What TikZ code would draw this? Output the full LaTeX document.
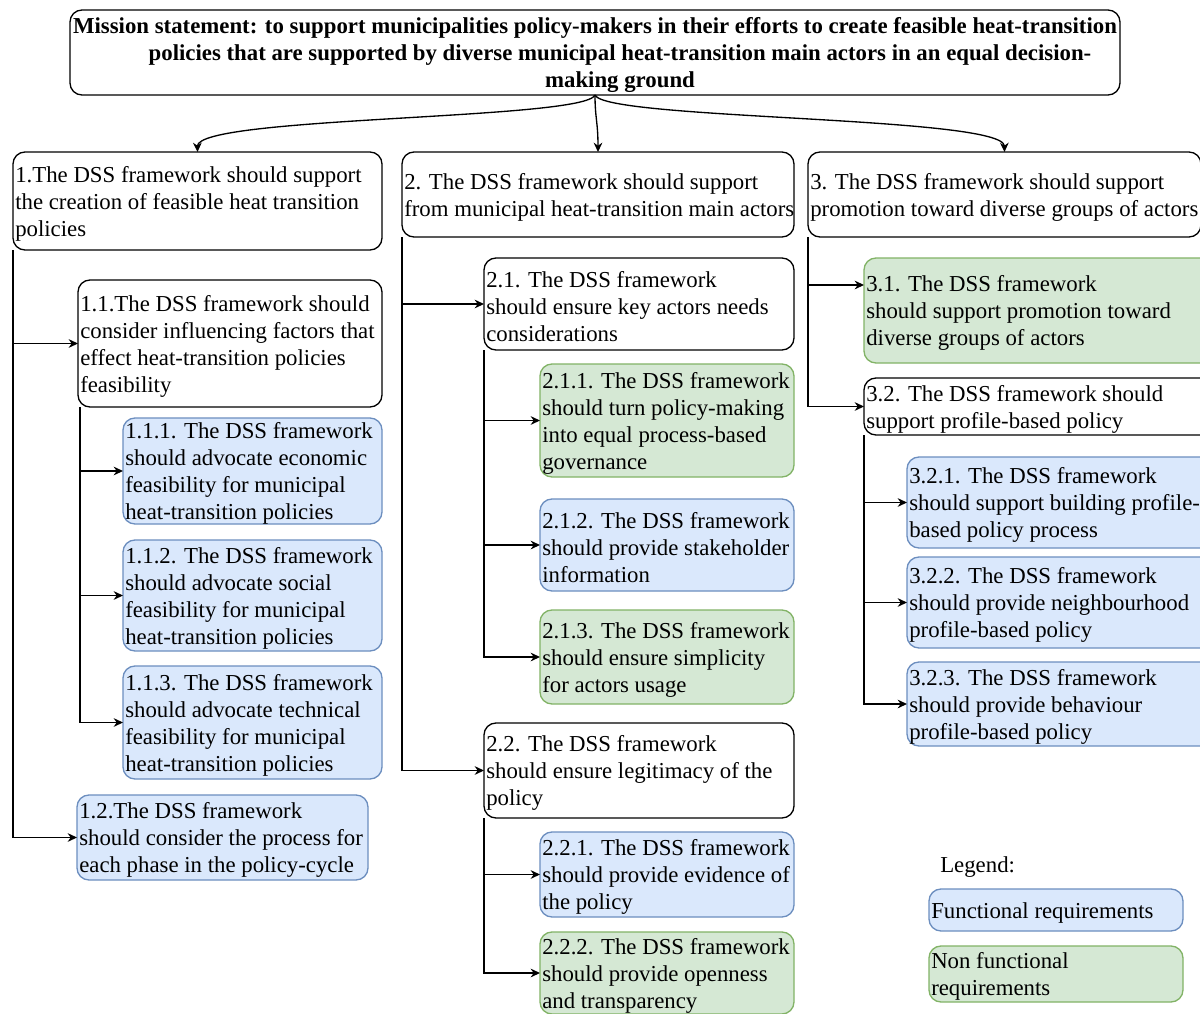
\documentclass[tikz,border=0pt]{standalone}
\usepackage{fontspec}
\setmainfont{Liberation Serif}
\usetikzlibrary{arrows.meta,fit,calc}

\definecolor{fblue}{HTML}{DAE8FC}
\definecolor{sblue}{HTML}{6C8EBF}
\definecolor{fgreen}{HTML}{D5E8D4}
\definecolor{sgreen}{HTML}{82B366}

\tikzset{
  plain/.style={draw=black, line width=1pt, rounded corners=9pt, inner sep=0pt, outer sep=0pt},
  func/.style={plain, draw=sblue, fill=fblue},
  nonfunc/.style={plain, draw=sgreen, fill=fgreen},
  txt/.style={inner sep=0pt, align=left, font=\fontsize{17.1}{20.25}\selectfont},
  arr/.style={line width=1pt, -{Stealth[length=7pt,width=6.5pt]}},
}

% box with left-aligned, vertically centred text: name, style, x1, y1, x2, y2, text
\newcommand\req[7]{%
  \node[#2, fit={(#3,#4) (#5,#6)}] (#1) {};
  \node[txt, anchor=west] (#1t) at ([xshift=1.5pt, yshift=-1.9pt]#1.west) {#7};
}

\begin{document}
\begin{tikzpicture}[x=0.75pt, y=-0.75pt]
\useasboundingbox (0,0) rectangle (1200,1014);
\clip (0,0) rectangle (1200,1014);
\fill[white] (0,0) rectangle (1200,1014);

% mission statement
\node[plain, fit={(70,10) (1120,95)}] (top) {};
\node[txt, align=center, font=\fontsize{17.1}{20.25}\selectfont\bfseries] (topt) at ([yshift=-2.2pt]top.center)
  {Mission statement: to support municipalities policy-makers in their efforts to create feasible heat-transition\\
   \hspace*{37.5pt}policies that are supported by diverse municipal heat-transition main actors in an equal decision-\\
   \hspace*{37.5pt}making ground};

% first level
\req{b1}{plain}{13}{152}{382}{250}{1.The DSS framework should support\\the creation of feasible heat transition\\policies}
\req{b2}{plain}{402}{152}{794}{237}{2. The DSS framework should support\\from municipal heat-transition main actors}
\req{b3}{plain}{808}{152}{1201}{237}{3. The DSS framework should support\\promotion toward diverse groups of actors}

% column 1
\req{b11}{plain}{78}{280}{382}{407}{1.1.The DSS framework should\\consider influencing factors that\\effect heat-transition policies\\feasibility}
\req{b111}{func}{123}{418}{382}{524}{1.1.1. The DSS framework\\should advocate economic\\feasibility for municipal\\heat-transition policies}
\req{b112}{func}{123}{540}{382}{651}{1.1.2. The DSS framework\\should advocate social\\feasibility for municipal\\heat-transition policies}
\req{b113}{func}{123}{666}{382}{779}{1.1.3. The DSS framework\\should advocate technical\\feasibility for municipal\\heat-transition policies}
\req{b12}{func}{77}{795}{368}{880}{1.2.The DSS framework\\should consider the process for\\each phase in the policy-cycle}

% column 2
\req{b21}{plain}{484}{258}{794}{350}{2.1. The DSS framework\\should ensure key actors needs\\considerations}
\req{b211}{nonfunc}{540}{364}{794}{477}{2.1.1. The DSS framework\\should turn policy-making\\into equal process-based\\governance}
\req{b212}{func}{540}{499}{794}{591}{2.1.2. The DSS framework\\should provide stakeholder\\information}
\req{b213}{nonfunc}{540}{610}{794}{704}{2.1.3. The DSS framework\\should ensure simplicity\\for actors usage}
\req{b22}{plain}{484}{723}{794}{818}{2.2. The DSS framework\\should ensure legitimacy of the\\policy}
\req{b221}{func}{540}{832}{794}{917}{2.2.1. The DSS framework\\should provide evidence of\\the policy}
\req{b222}{nonfunc}{540}{932}{794}{1014}{2.2.2. The DSS framework\\should provide openness\\and transparency}

% column 3
\req{b31}{nonfunc}{864}{258}{1212}{363}{3.1. The DSS framework\\should support promotion toward\\diverse groups of actors}
\req{b32}{plain}{864}{378}{1212}{435}{3.2. The DSS framework should\\support profile-based policy}
\req{b321}{func}{907}{457}{1212}{548}{3.2.1. The DSS framework\\should support building profile-\\based policy process}
\req{b322}{func}{907}{557}{1212}{648}{3.2.2. The DSS framework\\should provide neighbourhood\\profile-based policy}
\req{b323}{func}{907}{662}{1212}{746}{3.2.3. The DSS framework\\should provide behaviour\\profile-based policy}

% legend
\node[txt, anchor=west] (legt) at (940,867) {Legend:};
\req{lf}{func}{929}{889}{1183}{931}{Functional requirements}
\req{lnf}{nonfunc}{929}{946}{1183}{1002}{Non functional\\requirements}

% connectors from the mission statement
\draw[arr] (top.south) .. controls (585,120) and (197,116) .. (b1.north);
\draw[arr] (top.south) .. controls (595,118) and (598,122) .. (b2.north);
\draw[arr] (top.south) .. controls (605,120) and (1004,116) .. (b3.north);

% column 1 connectors
\draw[arr] (b1.south west) |- (b11.west);
\draw[arr] (b1.south west) |- (b12.west);
\draw[arr] ([xshift=1.5pt]b11.south west) |- (b111.west);
\draw[arr] ([xshift=1.5pt]b11.south west) |- (b112.west);
\draw[arr] ([xshift=1.5pt]b11.south west) |- (b113.west);

% column 2 connectors
\draw[arr] (b2.south west) |- (b21.west);
\draw[arr] (b2.south west) |- (b22.west);
\draw[arr] (b21.south west) |- (b211.west);
\draw[arr] (b21.south west) |- (b212.west);
\draw[arr] (b21.south west) |- (b213.west);
\draw[arr] (b22.south west) |- (b221.west);
\draw[arr] (b22.south west) |- (b222.west);

% column 3 connectors
\draw[arr] (b3.south west) |- ($(b31.north west)+(0,27)$);
\draw[arr] (b3.south west) |- (b32.west);
\draw[arr] (b32.south west) |- (b321.west);
\draw[arr] (b32.south west) |- (b322.west);
\draw[arr] (b32.south west) |- (b323.west);
\end{tikzpicture}
\end{document}
